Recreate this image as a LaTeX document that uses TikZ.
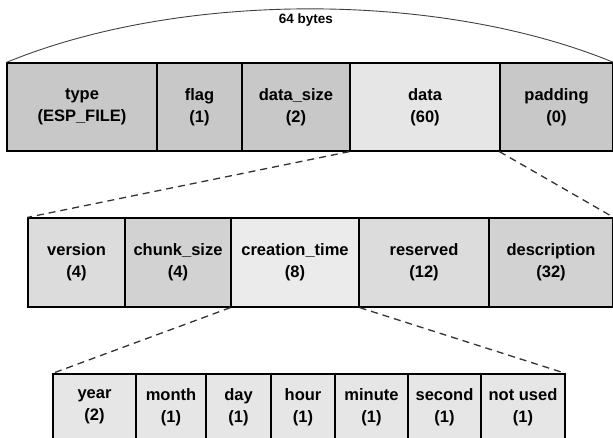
\documentclass[tikz,border=0pt]{standalone}
\usepackage{fontspec}
\setmainfont{Liberation Sans}
\definecolor{gdark}{HTML}{C8C8C8}
\definecolor{gmid}{HTML}{D2D2D2}
\definecolor{glight}{HTML}{E6E6E6}
\definecolor{gpale}{HTML}{EBEBEB}
\definecolor{gver}{HTML}{DCDCDC}
\begin{document}
\begin{tikzpicture}[x=1pt,y=-1pt,
  field/.style={draw=black,line width=1.2pt,inner sep=0pt,align=center,
    font=\fontsize{16.5}{22}\selectfont\bfseries,text=black},
  link/.style={dashed,line width=1.3pt,dash pattern=on 7pt off 5pt,draw=black!80}]
\useasboundingbox (0,0) rectangle (613,437);
\clip (0,0) rectangle (613,437);
% top row: y 63..151
\node[field,fill=gdark,minimum width=150pt,minimum height=88pt] (type) at (82,107) {type\\(ESP\_FILE)};
\node[field,fill=gdark,minimum width=85pt,minimum height=88pt] (flag) at (199.5,107) {flag\\(1)};
\node[field,fill=gdark,minimum width=108pt,minimum height=88pt] (dsize) at (296,107) {data\_size\\(2)};
\node[field,fill=glight,minimum width=150pt,minimum height=88pt] (data) at (425,107) {data\\(60)};
\node[field,fill=gdark,minimum width=113pt,minimum height=88pt] (padding) at (556.5,107) {padding\\(0)};
% second row: y 218..307
\node[field,fill=gver,minimum width=97pt,minimum height=89pt] (version) at (76.5,262.5) {version\\(4)};
\node[field,fill=gmid,minimum width=106pt,minimum height=89pt] (chunk) at (178,262.5) {chunk\_size\\(4)};
\node[field,fill=gpale,minimum width=128pt,minimum height=89pt] (ctime) at (295,262.5) {creation\_time\\(8)};
\node[field,fill=gver,minimum width=130pt,minimum height=89pt] (reserved) at (424,262.5) {reserved\\(12)};
\node[field,fill=gmid,minimum width=124pt,minimum height=89pt] (desc) at (551,262.5) {description\\(32)};
% third row: y 374..440
\node[field,fill=glight,minimum width=83pt,minimum height=66pt] (year) at (94.5,407) {year\\(2)};
\node[field,fill=glight,minimum width=70pt,minimum height=66pt] (month) at (171,407) {month\\(1)};
\node[field,fill=glight,minimum width=65pt,minimum height=66pt] (day) at (238.5,407) {day\\(1)};
\node[field,fill=glight,minimum width=64pt,minimum height=66pt] (hour) at (303,407) {hour\\(1)};
\node[field,fill=glight,minimum width=73pt,minimum height=66pt] (minute) at (371.5,407) {minute\\(1)};
\node[field,fill=glight,minimum width=73pt,minimum height=66pt] (second) at (444.5,407) {second\\(1)};
\node[field,fill=glight,minimum width=84pt,minimum height=66pt] (notused) at (523,407) {not used\\(1)};
% arc
\draw[line width=0.9pt,black!75] (type.north west) .. controls (180,-9) and (440,-9) .. (padding.north east);
\node[font=\fontsize{13.5}{16}\selectfont\bfseries,text=black] (bytes) at (306,20) {64 bytes};
% connectors
\draw[link] (data.south west) -- (version.north west);
\draw[link] (padding.south west) -- (desc.north east);
\draw[link] (ctime.south west) -- (year.north west);
\draw[link] (ctime.south east) -- (notused.north east);
\end{tikzpicture}
\end{document}
